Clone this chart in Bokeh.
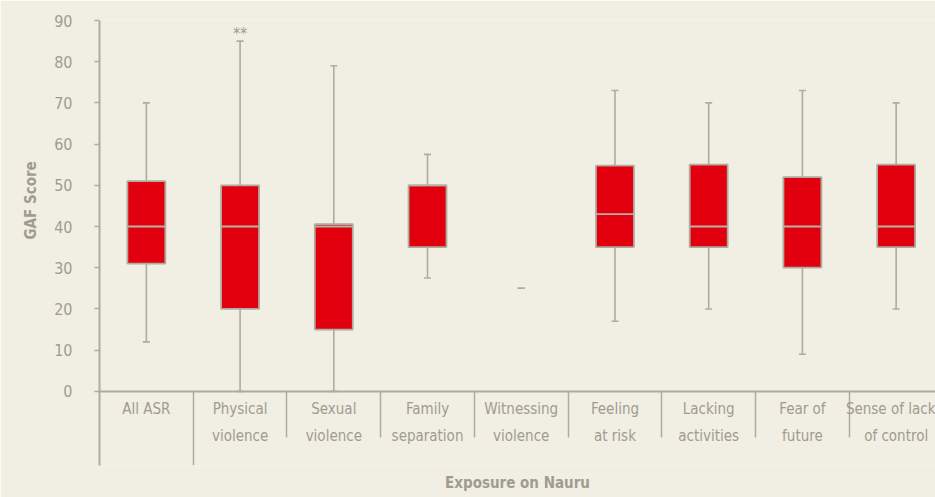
from bokeh.plotting import figure
from bokeh.models import (Range1d, LinearAxis, FixedTicker, Label, Title, ColumnDataSource)
from bokeh.embed import file_html
from bokeh.resources import INLINE

# ---- data ----
categories = ["All ASR", "Physical violence", "Sexual violence", "Family separation",
              "Witnessing violence", "Feeling at risk", "Lacking activities",
              "Fear of future", "Sense of lack of control"]
label_line1 = ["All ASR", "Physical", "Sexual", "Family", "Witnessing",
               "Feeling", "Lacking", "Fear of", "Sense of lack"]
label_line2 = ["", "violence", "violence", "separation", "violence",
               "at risk", "activities", "future", "of control"]
whisker_high = [70, 85, 79, 57.5, 25, 73, 70, 73, 70]
q3 = [51, 50, 40.6, 50, 25, 54.8, 55, 52, 55]
median = [40, 40, 40, 50, 25, 43, 40, 40, 40]
q1 = [31, 20, 15, 35, 25, 35, 35, 30, 35]
whisker_low = [12, 0, 0, 27.5, 25, 17, 20, 9, 20]
y_ticks = [0, 10, 20, 30, 40, 50, 60, 70, 80, 90]
significance = {"Physical violence": "**"}
x_title = "Exposure on Nauru"
y_title = "GAF Score"

# ---- style ----
BG = "#f1eee3"
RED = "#e2000f"
TXT = "#9f9c8f"
LINE = "#aeab9f"
MED = "#b5b2a6"
FONT = "DejaVu Sans Condensed"

n = len(categories)
xc = [i + 0.5 for i in range(n)]
box_w = 0.405

p = figure(width=935, height=497, output_backend="svg", toolbar_location=None,
           x_range=Range1d(0, 8.92), y_range=Range1d(-18, 90),
           x_axis_type=None, y_axis_type=None,
           min_border_left=99, min_border_right=0, min_border_top=20, min_border_bottom=32)
p.background_fill_color = BG
p.border_fill_color = BG
p.outline_line_color = None
p.xgrid.visible = False
p.ygrid.visible = False

# y axis
yax = LinearAxis(ticker=FixedTicker(ticks=y_ticks))
yax.axis_line_color = LINE
yax.axis_line_width = 2
yax.major_tick_line_color = LINE
yax.major_tick_line_width = 1.5
yax.major_tick_out = 5
yax.major_tick_in = 0
yax.minor_tick_line_color = None
yax.major_label_standoff = 22
yax.major_label_text_font = FONT
yax.major_label_text_font_size = "16px"
yax.major_label_text_color = TXT
p.add_layout(yax, "left")

p.add_layout(Title(text=y_title, align="left", offset=226, text_font=FONT,
                   text_font_size="15px", text_font_style="bold", text_color=TXT,
                   standoff=24), "left")
p.add_layout(Title(text=x_title, align="center", text_font=FONT,
                   text_font_size="15px", text_font_style="bold", text_color=TXT,
                   standoff=12), "below")

# x axis line with separators
xa = LinearAxis(ticker=FixedTicker(ticks=list(range(2, n))), fixed_location=0)
xa.axis_line_color = LINE
xa.axis_line_width = 2
xa.major_tick_line_color = LINE
xa.major_tick_line_width = 1.5
xa.major_tick_out = 46
xa.major_tick_in = 0
xa.minor_tick_line_color = None
xa.major_label_text_color = None
p.add_layout(xa, "below")

xb = LinearAxis(ticker=FixedTicker(ticks=[1]), fixed_location=0)
xb.axis_line_color = None
xb.major_tick_line_color = LINE
xb.major_tick_line_width = 1.5
xb.major_tick_out = 74
xb.major_tick_in = 0
xb.minor_tick_line_color = None
xb.major_label_text_color = None
p.add_layout(xb, "below")

# category labels (two lines)
for lines, standoff in ((label_line1, 9), (label_line2, 36)):
    ax = LinearAxis(ticker=FixedTicker(ticks=xc), fixed_location=0)
    ax.major_label_overrides = {x: t for x, t in zip(xc, lines)}
    ax.axis_line_color = None
    ax.major_tick_line_color = None
    ax.minor_tick_line_color = None
    ax.major_tick_out = 0
    ax.major_tick_in = 0
    ax.major_label_standoff = standoff
    ax.major_label_text_font = FONT
    ax.major_label_text_font_size = "15px"
    ax.major_label_text_color = TXT
    p.add_layout(ax, "below")

# whiskers
p.segment(x0=xc, y0=q3, x1=xc, y1=whisker_high, line_color=LINE, line_width=1.6)
p.segment(x0=xc, y0=whisker_low, x1=xc, y1=q1, line_color=LINE, line_width=1.6)

# boxes (only where there is a spread)
has_box = [hi > lo for hi, lo in zip(q3, q1)]
bx = [x for x, h in zip(xc, has_box) if h]
src = ColumnDataSource(dict(
    x=bx,
    x0=[x - box_w / 2 for x in bx],
    x1=[x + box_w / 2 for x in bx],
    top=[v for v, h in zip(q3, has_box) if h],
    bottom=[v for v, h in zip(q1, has_box) if h],
    med=[v for v, h in zip(median, has_box) if h],
))
p.vbar(x="x", top="top", bottom="bottom", width=box_w, source=src,
       fill_color=RED, line_color=LINE, line_width=1.8)
p.segment(x0="x0", y0="med", x1="x1", y1="med", source=src,
          line_color=MED, line_width=1.8)

# caps
p.scatter(x=xc, y=whisker_high, marker="dash", size=7, line_color=LINE, line_width=1.6)
p.scatter(x=xc, y=whisker_low, marker="dash", size=7, line_color=LINE, line_width=1.6)

# significance markers
for cat, mark in significance.items():
    i = categories.index(cat)
    p.add_layout(Label(x=xc[i], y=whisker_high[i], text=mark, y_offset=8,
                       text_align="center", text_baseline="alphabetic",
                       text_font=FONT, text_font_size="16px", text_color=TXT))

open("out.html", "w").write(file_html(p, INLINE))
